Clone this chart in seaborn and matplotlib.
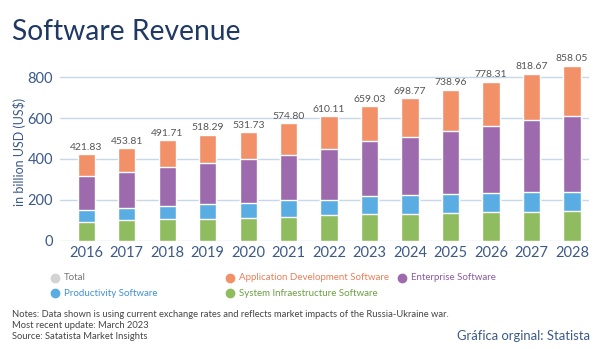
import numpy as np
import pandas as pd
import matplotlib
matplotlib.use("Agg")
import matplotlib.pyplot as plt
from matplotlib.lines import Line2D
import seaborn as sns

years = ["2016", "2017", "2018", "2019", "2020", "2021", "2022",
         "2023", "2024", "2025", "2026", "2027", "2028"]
totals = [421.83, 453.81, 491.71, 518.29, 531.73, 574.80, 610.11,
          659.03, 698.77, 738.96, 778.31, 818.67, 858.05]
system_infra = [90, 101, 106, 106, 111, 116, 123, 131, 132, 134, 141, 141, 147]
productivity = [62, 59, 64, 71, 71, 84, 78, 85, 89, 92, 90, 95, 93]
enterprise = [162, 178, 191, 204, 217, 220, 249, 270, 288, 310, 332, 353, 373]
app_dev = [108, 116, 131, 137, 133, 155, 160, 173, 190, 203, 215, 230, 245]

series_names = ["System Infraestructure Software", "Productivity Software",
                "Enterprise Software", "Application Development Software"]
series_colors = ["#8FBC5E", "#5AADE2", "#9C6AAD", "#F29068"]
legend_text_colors = {"Total": "#777777",
                      "Application Development Software": "#E9805A",
                      "Enterprise Software": "#8A5AA0",
                      "Productivity Software": "#3F92D2",
                      "System Infraestructure Software": "#6CA040"}
legend_marker_colors = {"Total": "#D3D3D3",
                        "Application Development Software": "#F29068",
                        "Enterprise Software": "#9C6AAD",
                        "Productivity Software": "#5AADE2",
                        "System Infraestructure Software": "#8FBC5E"}

sns.set_theme(style="white")
plt.rcParams["font.family"] = ["Lato", "DejaVu Sans"]

fig = plt.figure(figsize=(6.0, 3.49), dpi=100)
ax = fig.add_axes([60 / 600, 1 - 240.5 / 349, 529 / 600, (240.5 - 57) / 349])

layers = np.array([system_infra, productivity, enterprise, app_dev], dtype=float)
cum = np.cumsum(layers, axis=0)
cum[-1] = np.array(totals)

# draw from the top cumulative down so lower segments overlay
for i in range(len(series_names) - 1, -1, -1):
    df = pd.DataFrame({"year": years, "value": cum[i]})
    sns.barplot(data=df, x="year", y="value", color=series_colors[i],
                saturation=1, width=0.43, edgecolor="white", linewidth=1.0,
                ax=ax, zorder=3)

for xi, t in enumerate(totals):
    ax.text(xi, t + 12, f"{t:.2f}", ha="center", va="bottom",
            fontsize=7.5, color="#555555")

ax.set_ylim(0, 900)
ax.set_xlim(-0.65, 12.42)
ax.set_yticks([0, 200, 400, 600, 800])
ax.yaxis.grid(True, color="#C9D7EA", linewidth=1.0, zorder=0)
ax.set_axisbelow(True)
for s in ax.spines.values():
    s.set_visible(False)
ax.tick_params(axis="both", length=0, labelsize=10.5, colors="#3C5A88")
ax.tick_params(axis="y", pad=5)
ax.tick_params(axis="x", pad=4)
ax.set_xlabel("")
ax.set_ylabel("")

fig.text(20 / 600, 1 - 152 / 349, "in billion USD (US$)", fontsize=9,
         color="#3C5A88", rotation=90, ha="center", va="center")

fig.text(12 / 600, 1 - 32 / 349, "Software Revenue", fontsize=20.3,
         color="#1F3864", ha="left", va="center")

legend_items = [("Total", 55, 278), ("Application Development Software", 230, 278),
                ("Enterprise Software", 402, 278), ("Productivity Software", 55, 293),
                ("System Infraestructure Software", 230, 293)]
for name, px, py in legend_items:
    fig.add_artist(Line2D([px / 600], [1 - py / 349], marker="o", markersize=6,
                          color=legend_marker_colors[name], linestyle="none",
                          transform=fig.transFigure))
    fig.text((px + 9) / 600, 1 - py / 349, name, fontsize=7,
             color=legend_text_colors[name], ha="left", va="center")

notes = ["Notes: Data shown is using current exchange rates and reflects market impacts of the Russia-Ukraine war.",
         "Most recent update: March 2023",
         "Source: Satatista Market Insights"]
for k, line in enumerate(notes):
    fig.text(12 / 600, 1 - (314.5 + 11.2 * k) / 349, line, fontsize=6.75,
             color="#444444", ha="left", va="center")

fig.text(590 / 600, 1 - 336 / 349, "Gráfica orginal: Statista", fontsize=9.4,
         color="#3C5A88", ha="right", va="center")

fig.savefig("out.png", dpi=100)
